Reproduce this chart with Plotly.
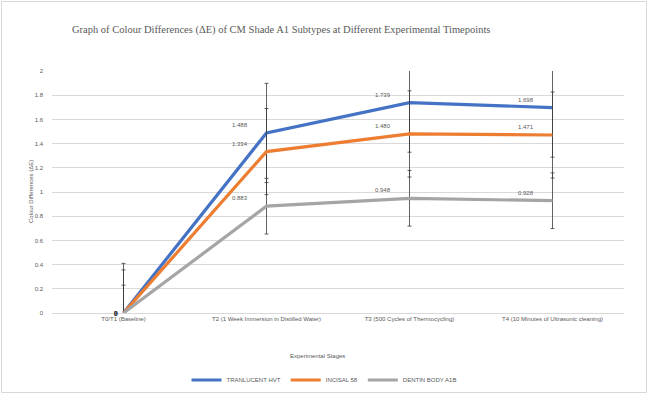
import plotly.graph_objects as go

categories = [
    "T0/T1 (Baseline)",
    "T2 (1 Week Immersion in Distilled Water)",
    "T3 (500 Cycles of Thermocycling)",
    "T4 (10 Minutes of Ultrasonic cleaning)",
]
series_names = ["TRANLUCENT HVT", "INCISAL 58", "DENTIN BODY A1B"]
tranlucent = [0, 1.488, 1.739, 1.698]
incisal = [0, 1.334, 1.480, 1.471]
dentin = [0, 0.883, 0.948, 0.928]
tranlucent_err = [0.41, 0.41, 0.41, 0.41]
incisal_err = [0.356, 0.356, 0.356, 0.356]
dentin_err = [0.23, 0.23, 0.23, 0.23]
y_ticks = [0, 0.2, 0.4, 0.6, 0.8, 1, 1.2, 1.4, 1.6, 1.8, 2]

colors = ["#4472C4", "#ED7D31", "#A5A5A5"]
values = [tranlucent, incisal, dentin]
errors = [tranlucent_err, incisal_err, dentin_err]

fig = go.Figure()
for name, vals, errs, col in zip(series_names, values, errors, colors):
    fig.add_trace(go.Scatter(
        x=categories, y=vals, name=name, mode="lines",
        line=dict(color=col, width=3.2),
        error_y=dict(type="data", array=errs, visible=True,
                     color="#3a3a3a", thickness=0.8, width=2),
        cliponaxis=True,
    ))

annotations = []
for vals in values:
    for c, v in zip(categories, vals):
        if v == 0:
            annotations.append(dict(x=c, y=v, xref="x", yref="y", text="<b>0</b>",
                                    showarrow=False, xshift=-8, yshift=0,
                                    font=dict(size=6.5, color="#404040",
                                              family="Liberation Sans")))
        else:
            annotations.append(dict(x=c, y=v, xref="x", yref="y", text=f"{v:.3f}",
                                    showarrow=False, xshift=-27, yshift=8,
                                    font=dict(size=6, color="#595959",
                                              family="Liberation Sans")))

annotations.append(dict(text="Experimental Stages", xref="paper", yref="paper",
                        x=(317 - 52) / 572, y=(313 - 356) / 242, showarrow=False,
                        xanchor="center", yanchor="middle",
                        font=dict(size=6, color="#595959", family="Liberation Sans")))
annotations.append(dict(text="Colour Differences (ΔE)", xref="paper", yref="paper",
                        x=(31 - 52) / 572, y=0.5, showarrow=False, textangle=-90,
                        xanchor="center", yanchor="middle",
                        font=dict(size=6, color="#595959", family="Liberation Sans")))

fig.update_layout(
    width=648, height=394,
    margin=dict(l=52, r=24, t=71, b=81, autoexpand=False),
    paper_bgcolor="white", plot_bgcolor="white",
    title=dict(text="Graph of Colour Differences (ΔE) of CM Shade A1 Subtypes at Different Experimental Timepoints",
               xref="container", yref="container", x=72 / 648, y=1 - 29 / 394,
               xanchor="left", yanchor="middle", pad=dict(l=0, r=0, t=0, b=0),
               font=dict(family="Liberation Serif", size=10.5, color="#595959")),
    showlegend=True,
    legend=dict(orientation="h", x=(324 - 52) / 572, y=(313 - 380) / 242,
                xanchor="center", yanchor="middle",
                font=dict(size=6, color="#595959", family="Liberation Sans"),
                itemwidth=30, tracegroupgap=0, bgcolor="rgba(0,0,0,0)"),
    annotations=annotations,
    shapes=[dict(type="rect", xref="paper", yref="paper",
                 x0=(1.5 - 52) / 572, x1=(646.5 - 52) / 572,
                 y0=(313 - 392.5) / 242, y1=(313 - 1.5) / 242,
                 line=dict(color="#d9d9d9", width=1), fillcolor="rgba(0,0,0,0)",
                 layer="below")],
)
fig.update_xaxes(type="category", range=[-0.5, 3.5], showgrid=False,
                 showline=True, linecolor="#d9d9d9", linewidth=1,
                 ticks="", tickfont=dict(size=6, color="#595959", family="Liberation Sans"),
                 fixedrange=True)
fig.update_yaxes(range=[0, 2], tickvals=y_ticks, ticktext=[f"{t:g}" for t in y_ticks],
                 showgrid=True, gridcolor="#d9d9d9", gridwidth=1, zeroline=False,
                 showline=False, ticks="", ticklabelstandoff=8,
                 tickfont=dict(size=6, color="#595959", family="Liberation Sans"),
                 fixedrange=True)

fig.write_html("out.html", config={"displayModeBar": False},
               post_script="document.body.style.margin='0px';document.body.style.overflow='hidden';")
